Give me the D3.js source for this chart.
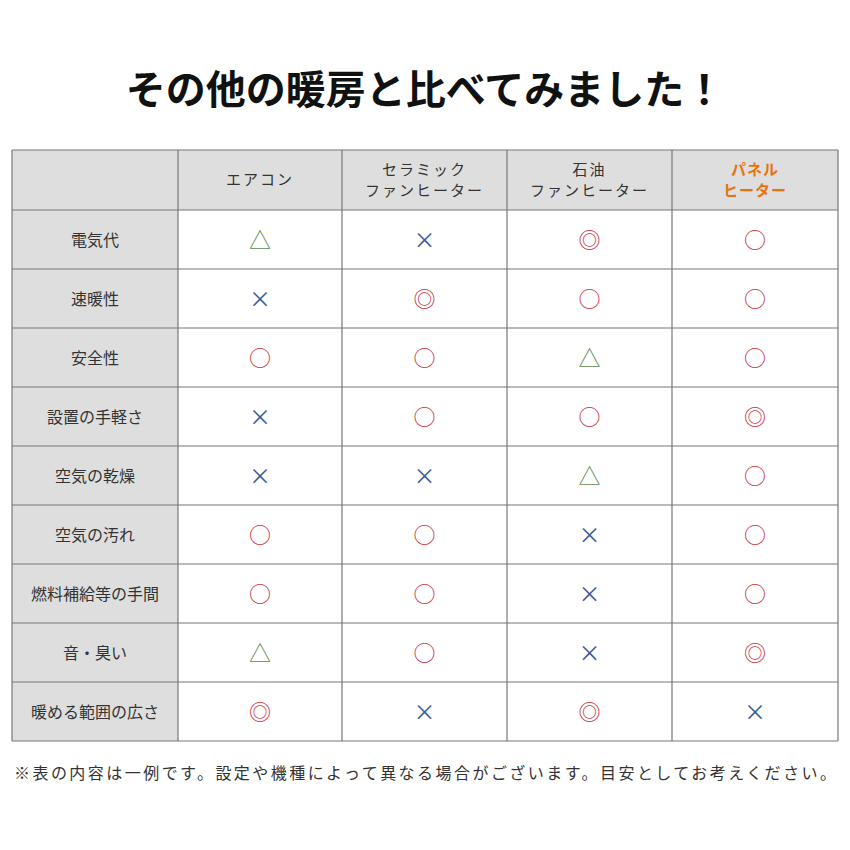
<!DOCTYPE html><html><head><meta charset="utf-8"><script src="https://cdn.jsdelivr.net/npm/d3@7"></script>
<style>body{margin:0;background:#fff}text{font-family:"Noto Sans CJK JP",sans-serif}</style></head><body><svg id="c" width="850" height="850"></svg><script>
const title="その他の暖房と比べてみました！";
const columns=[["エアコン"],["セラミック","ファンヒーター"],["石油","ファンヒーター"],["パネル","ヒーター"]];
const rows=["電気代","速暖性","安全性","設置の手軽さ","空気の乾燥","空気の汚れ","燃料補給等の手間","音・臭い","暖める範囲の広さ"];
const marks=[
["△","×","◎","○"],["×","◎","○","○"],["○","○","△","○"],["×","○","○","◎"],["×","×","△","○"],
["○","○","×","○"],["○","○","×","○"],["△","○","×","◎"],["◎","×","◎","×"]];
const note="※表の内容は一例です。設定や機種によって異なる場合がございます。目安としてお考えください。";
const color={"△":"#5b8c4e","×":"#3b5b98","◎":"#c8303f","○":"#c8303f"};
const svg=d3.select("#c");
svg.append("text").attr("x",425).attr("y",104).attr("text-anchor","middle").attr("font-size",40).attr("font-weight",700).attr("fill","#111").text(title);
const xs=[12,178,342,507,672,838];
const y=d3.scaleBand().domain(d3.range(9)).range([210,741]);
const g=svg.append("g");
g.append("rect").attr("x",12).attr("y",150).attr("width",826).attr("height",60).attr("fill","#dedede");
g.selectAll(".rb").data(rows).join("rect").attr("x",12).attr("y",(d,i)=>y(i)).attr("width",166).attr("height",y.bandwidth()).attr("fill","#dedede");
const lc="#777";
xs.forEach(v=>g.append("line").attr("x1",v).attr("x2",v).attr("y1",150).attr("y2",741).attr("stroke",lc).attr("stroke-width",1.2));
[150,...rows.map((d,i)=>y(i)),741].forEach(v=>g.append("line").attr("x1",12).attr("x2",838).attr("y1",v).attr("y2",v).attr("stroke",lc).attr("stroke-width",1.2));
columns.forEach((c,i)=>{
 const cx=(xs[i+1]+xs[i+2])/2, last=i===3;
 c.forEach((t,k)=>g.append("text").attr("x",cx).attr("y",180+(k-(c.length-1)/2)*21+5).attr("text-anchor","middle")
  .attr("font-size",15).attr("letter-spacing",last?1:2).attr("font-weight",last?700:400).attr("fill",last?"#e8720c":"#333").text(t));
});
rows.forEach((r,i)=>{
 const cy=y(i)+y.bandwidth()/2;
 g.append("text").attr("x",95).attr("y",cy+6).attr("text-anchor","middle").attr("font-size",16).attr("fill","#333").text(r);
 marks[i].forEach((m,j)=>{
  g.append("text").attr("x",(xs[j+1]+xs[j+2])/2).attr("y",cy+8).attr("text-anchor","middle").attr("font-size",22).attr("fill",color[m]).text(m);
 });
});
svg.append("text").attr("x",14).attr("y",779).attr("font-size",16).attr("textLength",822).attr("lengthAdjust","spacing").attr("fill","#333").text(note);
</script></body></html>
